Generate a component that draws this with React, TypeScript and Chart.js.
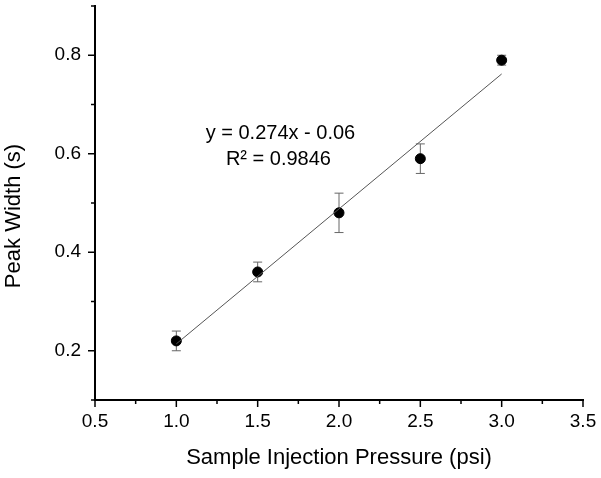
import { useEffect, useRef } from 'react';
import { Chart, registerables } from 'chart.js';

Chart.register(...registerables);

// measured points
const pressure = [1.0, 1.5, 2.0, 2.5, 3.0];
const peakWidth = [0.22, 0.36, 0.48, 0.59, 0.79];
const errorBar = [0.02, 0.02, 0.04, 0.03, 0.01];

// linear fit, y = 0.274x - 0.06
const fitX = [1.0, 3.0];
const fitY = [0.214, 0.762];
const fitLabel = ['y = 0.274x - 0.06', 'R\u00b2 = 0.9846'];

const FONT = '"Liberation Sans", Arial, sans-serif';

const errorBars = {
  id: 'errorBars',
  beforeDatasetsDraw(chart: any) {
    const { ctx, scales } = chart;
    ctx.save();
    ctx.strokeStyle = '#666';
    ctx.lineWidth = 1;
    pressure.forEach((x, i) => {
      const px = scales.x.getPixelForValue(x);
      const top = scales.y.getPixelForValue(peakWidth[i] + errorBar[i]);
      const bot = scales.y.getPixelForValue(peakWidth[i] - errorBar[i]);
      ctx.beginPath();
      ctx.moveTo(px, top);
      ctx.lineTo(px, bot);
      ctx.moveTo(px - 4.5, top);
      ctx.lineTo(px + 4.5, top);
      ctx.moveTo(px - 4.5, bot);
      ctx.lineTo(px + 4.5, bot);
      ctx.stroke();
    });
    ctx.restore();
  },
};

const extras = {
  id: 'extras',
  afterDraw(chart: any) {
    const { ctx, scales, chartArea } = chart;
    ctx.save();
    ctx.strokeStyle = '#000';
    ctx.lineWidth = 1.5;
    // outward tick marks, major ones longer
    scales.x.ticks.forEach((t: any) => {
      const px = scales.x.getPixelForValue(t.value);
      const major = Math.round(t.value * 4) % 2 === 0;
      ctx.beginPath();
      ctx.moveTo(px, chartArea.bottom);
      ctx.lineTo(px, chartArea.bottom + (major ? 7 : 4));
      ctx.stroke();
    });
    scales.y.ticks.forEach((t: any) => {
      const py = scales.y.getPixelForValue(t.value);
      const major = Math.round(t.value * 10) % 2 === 0;
      ctx.beginPath();
      ctx.moveTo(chartArea.left, py);
      ctx.lineTo(chartArea.left - (major ? 7 : 4), py);
      ctx.stroke();
    });

    ctx.fillStyle = '#000';
    // fit equation
    ctx.font = `20px ${FONT}`;
    ctx.textAlign = 'center';
    ctx.textBaseline = 'alphabetic';
    const ex = scales.x.getPixelForValue(1.64);
    ctx.fillText(fitLabel[0], ex, scales.y.getPixelForValue(0.629));
    ctx.fillText(fitLabel[1], ex - 2, scales.y.getPixelForValue(0.578));

    // axis titles
    ctx.font = `22px ${FONT}`;
    ctx.textBaseline = 'middle';
    ctx.fillText('Sample Injection Pressure (psi)', (chartArea.left + chartArea.right) / 2, 458);
    ctx.translate(14, (chartArea.top + chartArea.bottom) / 2 + 13);
    ctx.rotate(-Math.PI / 2);
    ctx.fillText('Peak Width (s)', 0, 0);
    ctx.restore();
  },
};

export default function App() {
  const canvasRef = useRef<HTMLCanvasElement>(null);

  useEffect(() => {
    document.body.style.margin = '0';
    if (!canvasRef.current) return;
    const chart = new Chart(canvasRef.current, {
      type: 'scatter',
      data: {
        datasets: [
          {
            label: 'fit',
            type: 'line',
            data: fitX.map((x, i) => ({ x, y: fitY[i] })),
            borderColor: '#555',
            borderWidth: 1,
            pointRadius: 0,
            fill: false,
          },
          {
            label: 'Peak width',
            data: pressure.map((x, i) => ({ x, y: peakWidth[i] })),
            backgroundColor: '#000',
            borderColor: '#000',
            pointRadius: 5,
          },
        ],
      },
      options: {
        animation: false,
        responsive: true,
        maintainAspectRatio: false,
        layout: { padding: { top: 6, right: 18, left: 0, bottom: 0 } },
        plugins: {
          legend: { display: false },
          tooltip: { enabled: false },
        },
        scales: {
          x: {
            type: 'linear',
            min: 0.5,
            max: 3.5,
            afterFit: (s: any) => {
              s.height = 78;
              s.paddingLeft = 0;
              s.paddingRight = 0;
            },
            grid: { drawOnChartArea: false, drawTicks: false },
            border: { color: '#000', width: 2 },
            ticks: {
              stepSize: 0.25,
              autoSkip: false,
              maxRotation: 0,
              padding: 10,
              color: '#000',
              font: { family: FONT, size: 19 },
              callback: (v: any) => (Math.round(v * 4) % 2 === 0 ? Number(v).toFixed(1) : ''),
            },
          },
          y: {
            min: 0.1,
            max: 0.9,
            afterFit: (s: any) => {
              s.width = 95;
              s.paddingTop = 0;
              s.paddingBottom = 0;
            },
            grid: { drawOnChartArea: false, drawTicks: false },
            border: { color: '#000', width: 2 },
            ticks: {
              stepSize: 0.1,
              autoSkip: false,
              padding: 14,
              color: '#000',
              font: { family: FONT, size: 19 },
              callback: (v: any) => {
                const n = Math.round(v * 10);
                return n % 2 === 0 && n > 1 && n < 9 ? Number(v).toFixed(1) : '';
              },
            },
          },
        },
      },
      plugins: [errorBars, extras],
    });
    return () => chart.destroy();
  }, []);

  return (
    <div style={{ width: 601, height: 478, position: 'relative', background: '#fff' }}>
      <canvas ref={canvasRef} />
    </div>
  );
}
